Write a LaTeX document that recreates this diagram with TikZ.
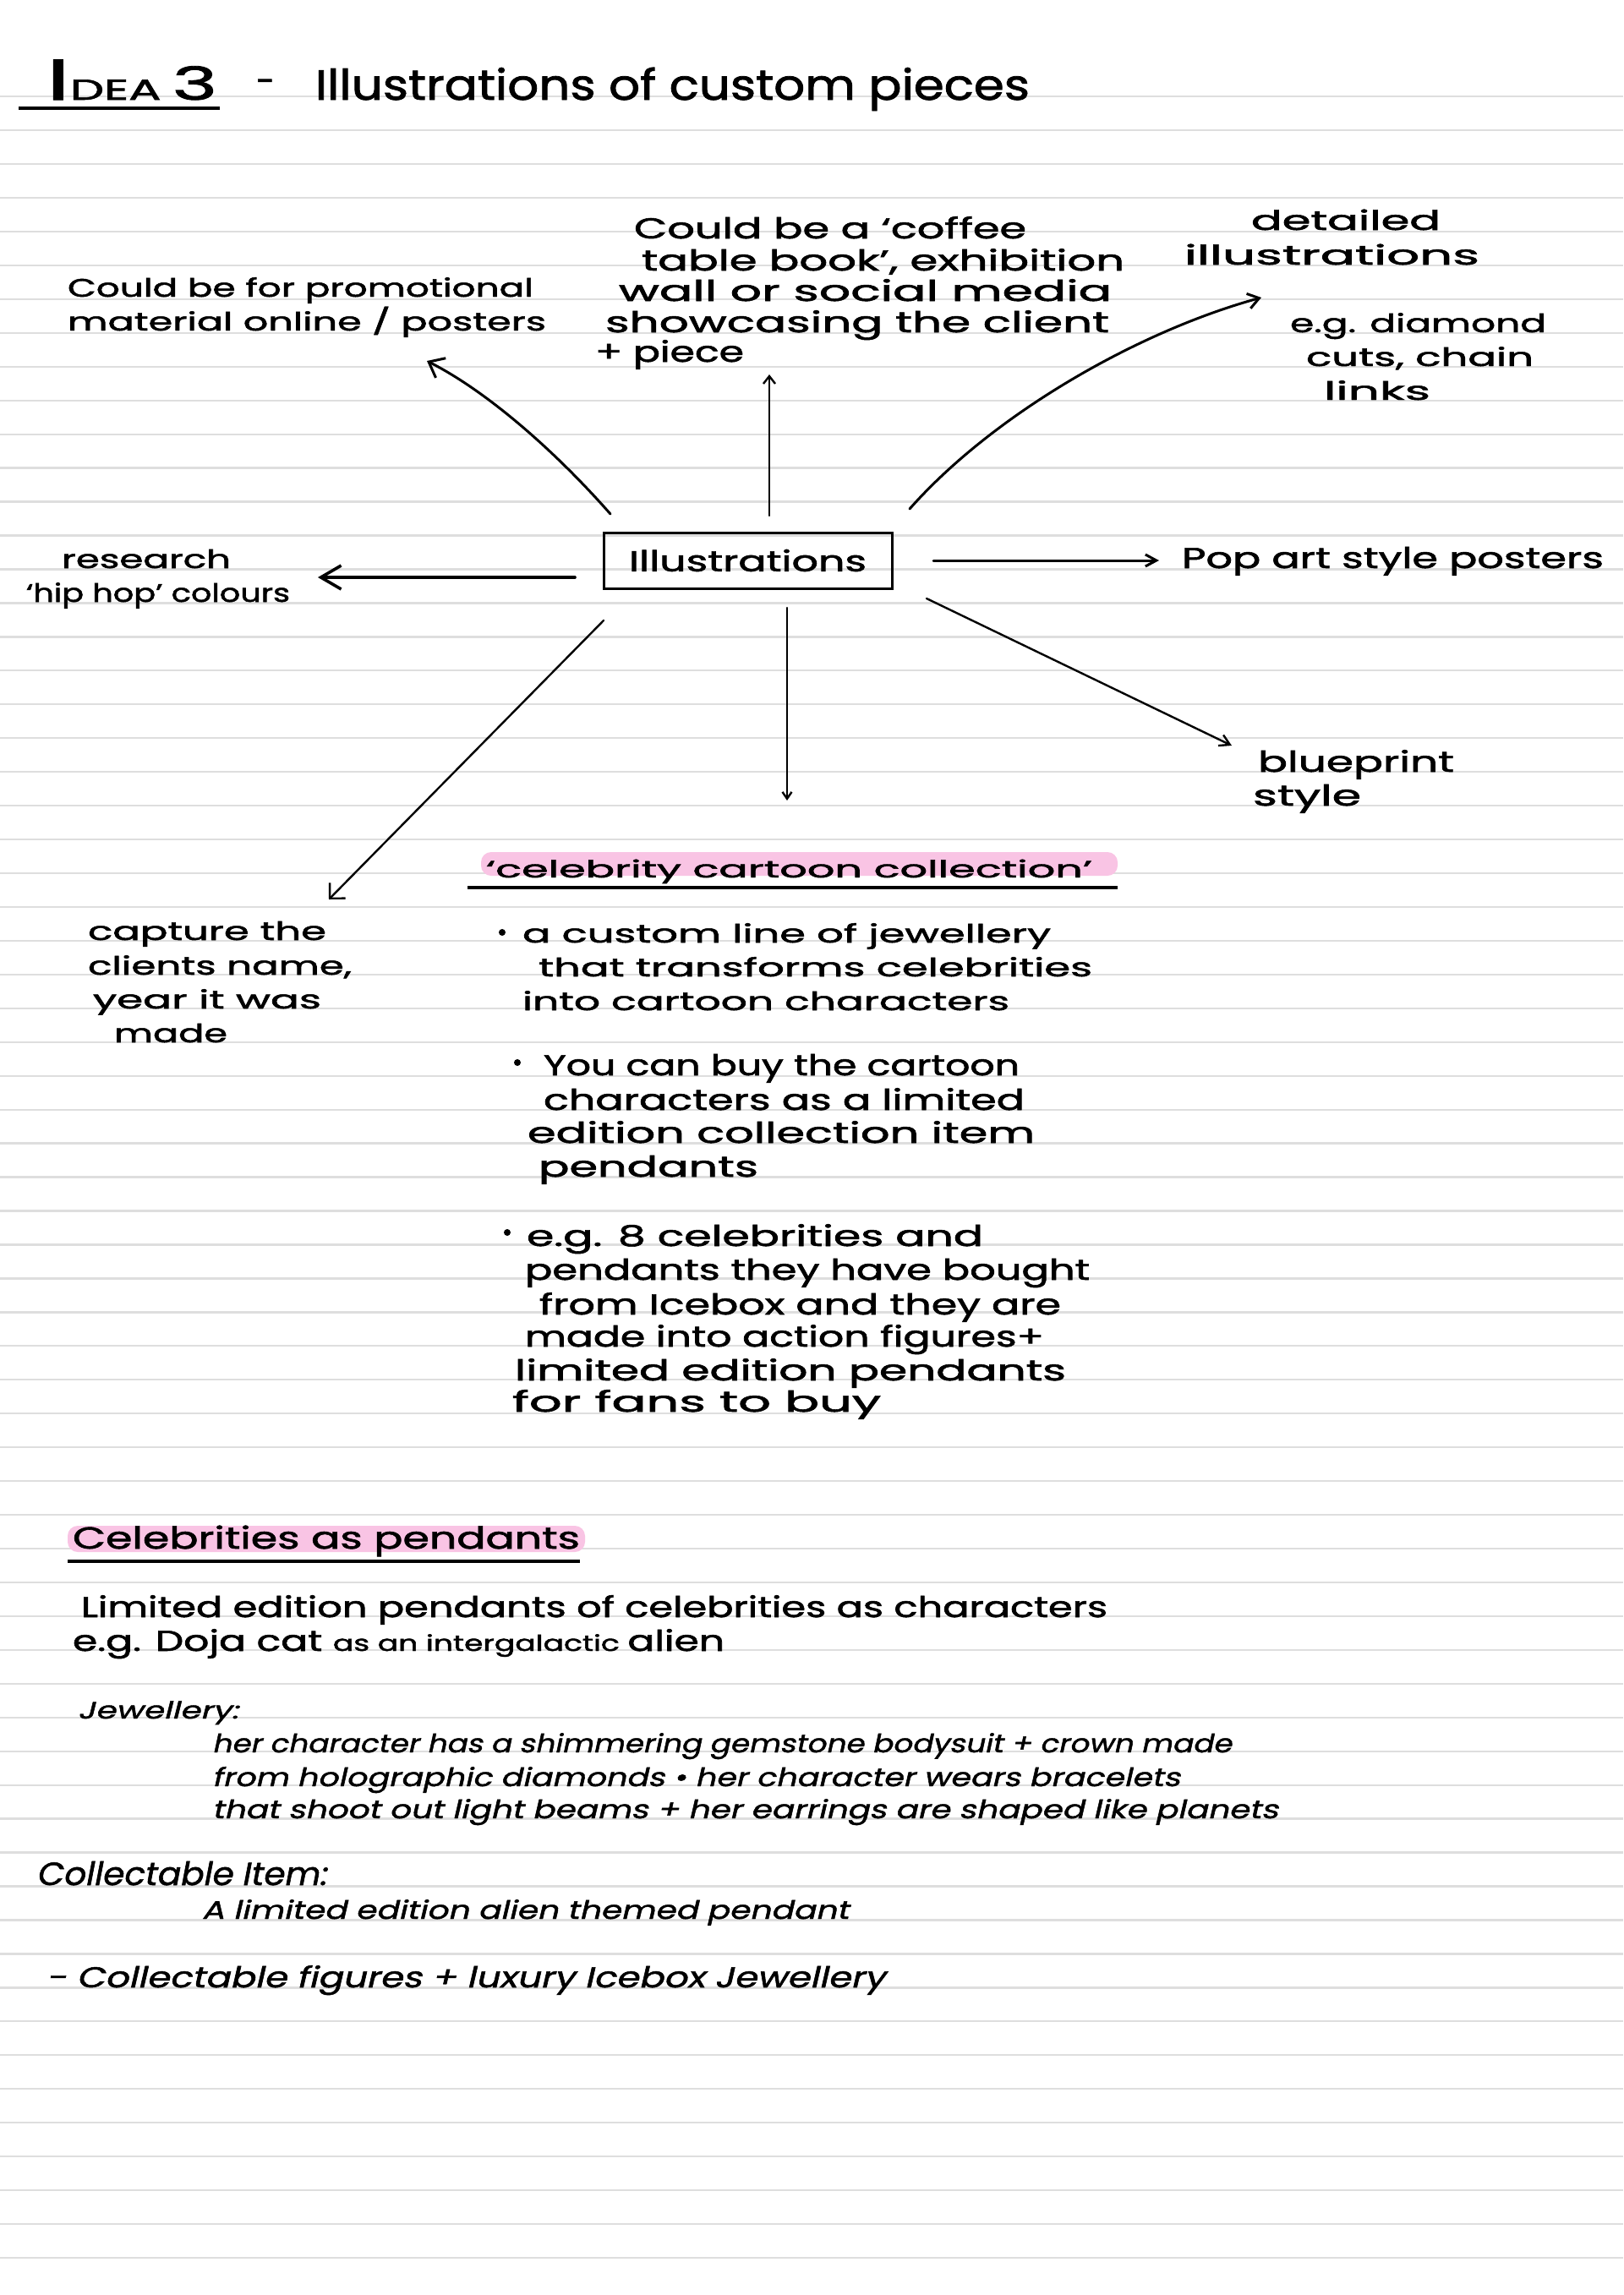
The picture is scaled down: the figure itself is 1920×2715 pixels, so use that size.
\documentclass[tikz,border=0pt]{standalone}
\usepackage{fontspec}
\setmainfont{Poppins}[FakeBold=1.6]
\newfontfamily\slfont[FakeSlant=0.18,FakeBold=1.4]{Poppins}
\usetikzlibrary{arrows.meta}
\definecolor{rulegray}{HTML}{DEDEDE}
\definecolor{hilite}{HTML}{F9C4E4}
\newcommand\fsz[1]{\fontsize{#1}{#1}\selectfont}
\newcommand\fitw[2]{\resizebox{#1pt}{\height}{#2}}
\begin{document}
\begin{tikzpicture}[x=1pt,y=-1pt,
  hw/.style={inner sep=0pt, outer sep=0pt, anchor=base west},
  conn/.style={line width=3pt, line cap=round, line join=round},
  thinconn/.style={line width=2.4pt, line cap=round, line join=round},
  rl/.style={rulegray, line width=2.3pt},
  uline/.style={line width=4pt},
  dot/.style={circle, fill=black, inner sep=0pt, minimum size=8pt},
  hl/.style={hilite, rounded corners=12pt}]
\useasboundingbox (0,0) rectangle (1920,2715);
\fill[white] (0,0) rectangle (1920,2715);
% ruled paper
\foreach \k in {0,...,64} {\draw[rl] (0,{114.15+39.95*\k}) -- (1920,{114.15+39.95*\k});}

% ---------- title ----------
\node[hw] (idea) at (55,118) {\fitw{202}{{\fsz{68}I}{\fsz{34}DEA}\hspace{8pt}{\fsz{54}3}}};
\draw[uline] (22,128) -- (260,128);
\node[hw, font=\fsz{40}] (dash) at (303,110) {-};
\node[hw, font=\fsz{50}] (ttl) at (373,118) {\fitw{845}{Illustrations of custom pieces}};

% ---------- mind map ----------
\node[draw, line width=3pt, minimum width=341pt, minimum height=66pt, inner sep=0pt, font=\fsz{34}] (box) at (884.5,663) {\fitw{281}{Illustrations}};

\node[hw, font=\fsz{30}] (promoA) at (80,351) {\fitw{551}{Could be for promotional}};
\node[hw, font=\fsz{30}] (promoB) at (80,391) {\fitw{566}{material online / posters}};

\node[hw, font=\fsz{34}] (cofA) at (750,282) {\fitw{464}{Could be a ‘coffee}};
\node[hw, font=\fsz{34}] (cofB) at (759,320) {\fitw{571}{table book’, exhibition}};
\node[hw, font=\fsz{34}] (cofC) at (732,356) {\fitw{583}{wall or social media}};
\node[hw, font=\fsz{34}] (cofD) at (716,393) {\fitw{596}{showcasing the client}};
\node[hw, font=\fsz{34}] (cofE) at (704,428) {\fitw{176}{+ piece}};

\node[hw, font=\fsz{32}] (detA) at (1480,272) {\fitw{224}{detailed}};
\node[hw, font=\fsz{32}] (detB) at (1401,313) {\fitw{349}{illustrations}};
\node[hw, font=\fsz{30}] (egA) at (1526,393) {\fitw{303}{e.g. diamond}};
\node[hw, font=\fsz{30}] (egB) at (1545,433) {\fitw{269}{cuts, chain}};
\node[hw, font=\fsz{30}] (egC) at (1566,473) {\fitw{126}{links}};

\node[hw, font=\fsz{30}] (resA) at (73,672) {\fitw{200}{research}};
\node[hw, font=\fsz{30}] (resB) at (31,712) {\fitw{312}{‘hip hop’ colours}};

\node[hw, font=\fsz{34}] (pop) at (1398,672) {\fitw{499}{Pop art style posters}};

\node[hw, font=\fsz{34}] (bluA) at (1488,913) {\fitw{232}{blueprint}};
\node[hw, font=\fsz{34}] (bluB) at (1482,953) {\fitw{128}{style}};

\node[hw, font=\fsz{30}] (capA) at (104,1112) {\fitw{282}{capture the}};
\node[hw, font=\fsz{30}] (capB) at (104,1153) {\fitw{312}{clients name,}};
\node[hw, font=\fsz{30}] (capC) at (110,1193) {\fitw{270}{year it was}};
\node[hw, font=\fsz{30}] (capD) at (135,1233) {\fitw{134}{made}};

% connectors
\coordinate (s1) at (722,608);  \coordinate (e1) at (505,427);
\coordinate (s2) at (910,610);  \coordinate (e2) at (910,443);
\coordinate (s3) at (1076,602); \coordinate (e3) at (1492,352);
\coordinate (s4) at (680,683);  \coordinate (e4) at (376,683);
\coordinate (s5) at (1104,663); \coordinate (e5) at (1371,663);
\coordinate (s6) at (1096,708); \coordinate (e6) at (1457,882);
\coordinate (s7) at (931,719);  \coordinate (e7) at (931,947);
\coordinate (s8) at (714,734);  \coordinate (e8) at (389,1064);

\draw[conn, -{Straight Barb[length=16pt,width=26pt]}] (s1) .. controls (656,533) and (576,463) .. (e1);
\draw[thinconn, -{Straight Barb[length=9pt,width=14pt]}] (s2) -- (e2);
\draw[conn, -{Straight Barb[length=13pt,width=18pt]}] (s3) .. controls (1175,490) and (1346,392) .. (e3);
\draw[conn, line width=3.6pt, -{Straight Barb[length=24pt,width=28pt]}] (s4) -- (e4);
\draw[conn, -{Straight Barb[length=13pt,width=14pt]}] (s5) -- (e5);
\draw[thinconn, -{Straight Barb[length=12pt,width=14pt]}] (s6) -- (e6);
\draw[thinconn, -{Straight Barb[length=8pt,width=11pt]}] (s7) -- (e7);
\draw[thinconn, -{Straight Barb[length=13pt,width=26pt]}] (s8) -- (e8);

% ---------- celebrity cartoon collection ----------
\fill[hl] (569,1008) rectangle (1322,1036);
\draw[line width=3.5pt] (553,1050) -- (1322,1050);
\node[hw, font=\fsz{28}] (cct) at (575,1038) {\fitw{717}{‘celebrity cartoon collection’}};

\node[dot] (b1) at (594,1103) {};
\node[hw, font=\fsz{30}] (b1A) at (618,1115) {\fitw{625}{a custom line of jewellery}};
\node[hw, font=\fsz{30}] (b1B) at (637,1155) {\fitw{655}{that transforms celebrities}};
\node[hw, font=\fsz{30}] (b1C) at (618,1195) {\fitw{576}{into cartoon characters}};

\node[dot] (b2) at (612,1257) {};
\node[hw, font=\fsz{34}] (b2A) at (643,1272) {\fitw{563}{You can buy the cartoon}};
\node[hw, font=\fsz{34}] (b2B) at (643,1313) {\fitw{569}{characters as a limited}};
\node[hw, font=\fsz{34}] (b2C) at (624,1352) {\fitw{600}{edition collection item}};
\node[hw, font=\fsz{34}] (b2D) at (637,1392) {\fitw{260}{pendants}};

\node[dot] (b3) at (600,1458) {};
\node[hw, font=\fsz{34}] (b3A) at (623,1474) {\fitw{540}{e.g. 8 celebrities and}};
\node[hw, font=\fsz{34}] (b3B) at (621,1514) {\fitw{668}{pendants they have bought}};
\node[hw, font=\fsz{34}] (b3C) at (638,1555) {\fitw{617}{from Icebox and they are}};
\node[hw, font=\fsz{34}] (b3D) at (621,1593) {\fitw{614}{made into action figures+}};
\node[hw, font=\fsz{34}] (b3E) at (609,1633) {\fitw{652}{limited edition pendants}};
\node[hw, font=\fsz{34}] (b3F) at (606,1670) {\fitw{436}{for fans to buy}};

% ---------- celebrities as pendants ----------
\fill[hl] (80,1805) rectangle (692,1836);
\draw[line width=4pt] (80,1847) -- (686,1847);
\node[hw, font=\fsz{36}] (cap) at (86,1832) {\fitw{600}{Celebrities as pendants}};

\node[hw, font=\fsz{34}] (lim) at (96,1913) {\fitw{1214}{Limited edition pendants of celebrities as characters}};
\node[hw] (doja) at (86,1953) {\fitw{771}{{\fsz{34}e.g. Doja cat }{\fsz{26}as an intergalactic }{\fsz{34}alien}}};

\node[hw, font=\slfont\fsz{28}] (jew) at (92,2033) {\fitw{190}{Jewellery:}};
\node[hw, font=\slfont\fsz{30}] (jA) at (251,2073) {\fitw{1206}{her character has a shimmering gemstone bodysuit + crown made}};
\node[hw, font=\slfont\fsz{30}] (jB) at (251,2113) {\fitw{1145}{from holographic diamonds \textbullet\ her character wears bracelets}};
\node[hw, font=\slfont\fsz{30}] (jC) at (251,2151) {\fitw{1261}{that shoot out light beams + her earrings are shaped like planets}};

\node[hw, font=\slfont\fsz{38}] (col) at (43,2230) {\fitw{343}{Collectable Item:}};
\node[hw, font=\slfont\fsz{30}] (colA) at (239,2270) {\fitw{765}{A limited edition alien themed pendant}};
\node[hw, font=\slfont\fsz{34}] (fig) at (55,2351) {\fitw{992}{- Collectable figures + luxury Icebox Jewellery}};
\end{tikzpicture}
\end{document}
